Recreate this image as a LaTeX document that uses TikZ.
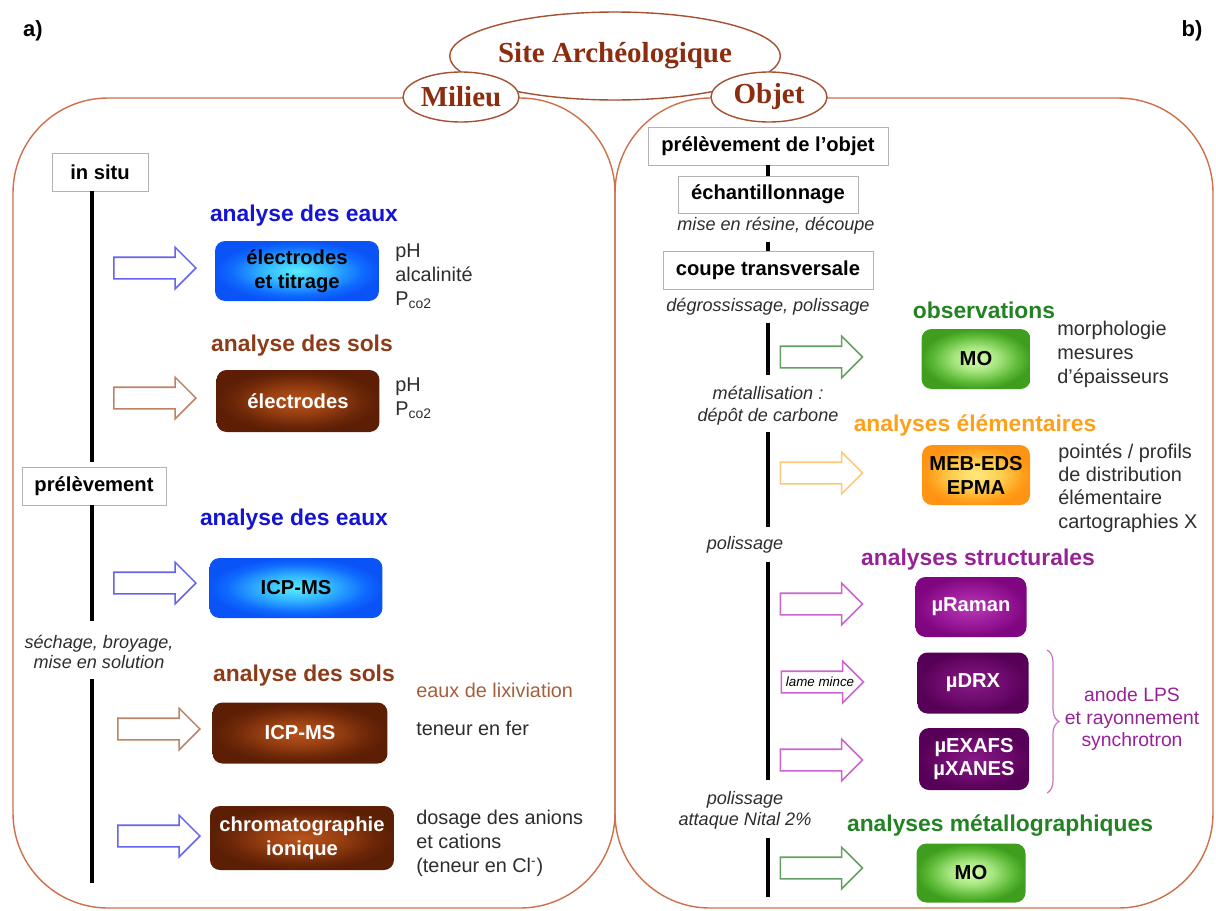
\documentclass[tikz,border=0pt]{standalone}
\usepackage{fontspec}
\setmainfont{Liberation Sans}
\newfontfamily\ttlfont{Liberation Serif}
\usetikzlibrary{shapes.geometric,shapes.arrows,decorations.pathreplacing}
\newcommand\myfs[2]{\fontsize{#1}{#2}\selectfont}
\definecolor{panelc}{RGB}{205,112,75}
\definecolor{ellc}{RGB}{165,80,50}
\definecolor{titlec}{RGB}{140,45,15}
\definecolor{hblue}{RGB}{20,20,210}
\definecolor{hbrown}{RGB}{140,60,25}
\definecolor{hgreen}{RGB}{35,130,35}
\definecolor{horange}{RGB}{255,160,25}
\definecolor{hpurple}{RGB}{150,35,150}
\definecolor{txtc}{RGB}{45,45,45}
\definecolor{lixc}{RGB}{165,95,60}
\definecolor{arblue}{RGB}{100,100,240}
\definecolor{arbrown}{RGB}{190,130,100}
\definecolor{argreen}{RGB}{100,160,100}
\definecolor{arorange}{RGB}{255,200,120}
\definecolor{arpurple}{RGB}{205,100,205}
\definecolor{bracec}{RGB}{200,120,200}
\pgfdeclareradialshading{gblue}{\pgfpoint{0bp}{0bp}}{rgb(0bp)=(0.35,0.93,1);rgb(10bp)=(0.2,0.72,1);rgb(20bp)=(0.06,0.42,1);rgb(25bp)=(0.04,0.33,0.97);rgb(50bp)=(0.04,0.33,0.97)}
\pgfdeclareradialshading{gbrown}{\pgfpoint{0bp}{0bp}}{rgb(0bp)=(0.72,0.33,0.1);rgb(10bp)=(0.6,0.25,0.07);rgb(20bp)=(0.42,0.15,0.03);rgb(25bp)=(0.36,0.12,0.02);rgb(50bp)=(0.36,0.12,0.02)}
\pgfdeclareradialshading{ggreen}{\pgfpoint{0bp}{0bp}}{rgb(0bp)=(0.85,1,0.7);rgb(10bp)=(0.65,0.9,0.5);rgb(20bp)=(0.35,0.72,0.2);rgb(25bp)=(0.25,0.62,0.12);rgb(50bp)=(0.25,0.62,0.12)}
\pgfdeclareradialshading{gorange}{\pgfpoint{0bp}{0bp}}{rgb(0bp)=(1,0.92,0.5);rgb(12bp)=(1,0.8,0.3);rgb(22bp)=(1,0.62,0.1);rgb(25bp)=(1,0.58,0.08);rgb(50bp)=(1,0.58,0.08)}
\pgfdeclareradialshading{gpurple}{\pgfpoint{0bp}{0bp}}{rgb(0bp)=(0.72,0.22,0.72);rgb(15bp)=(0.6,0.1,0.6);rgb(25bp)=(0.5,0.02,0.5);rgb(50bp)=(0.5,0.02,0.5)}
\pgfdeclareradialshading{gdpurple}{\pgfpoint{0bp}{0bp}}{rgb(0bp)=(0.52,0.1,0.52);rgb(15bp)=(0.43,0.04,0.43);rgb(25bp)=(0.34,0,0.34);rgb(50bp)=(0.34,0,0.34)}
\begin{document}
\begin{tikzpicture}[x=0.02cm,y=-0.02cm,
 panel/.style={draw=panelc, line width=0.8pt, rounded corners=1.9cm},
 oval/.style={ellipse, draw=ellc, line width=0.8pt, fill=white, inner sep=0pt, text=titlec, font=\ttlfont\bfseries\myfs{16.5}{18}},
 pbox/.style={draw=gray!60, fill=white, inner sep=0pt, font=\bfseries\myfs{11.5}{13}, minimum height=0.76cm},
 note/.style={font=\itshape\myfs{10.3}{11.8}, text=txtc, align=center, inner sep=0pt},
 head/.style={font=\bfseries\myfs{13}{15}, inner sep=0pt},
 side/.style={font=\myfs{11.3}{13.6}, text=txtc, align=left, anchor=west, inner sep=0pt},
 gbox/.style={rounded corners=0.2cm, inner sep=0pt, font=\bfseries\myfs{11.5}{13.6}, align=center, minimum height=1.2cm},
 blk/.style={single arrow, draw=#1, line width=0.9pt, fill=white, minimum height=1.64cm, minimum width=0pt, single arrow head extend=0.2cm, single arrow tip angle=90, inner xsep=0pt, inner ysep=0.2cm},
 vline/.style={line width=1.9pt, black}]
\useasboundingbox (0,0) rectangle (1216,910);
% panels
\draw[panel] (13,98) rectangle (615,908);
\draw[panel] (615,98) rectangle (1213,908);
% title ovals
\node[oval, minimum width=6.52cm, minimum height=1.76cm] (site) at (615,56) {Site Archéologique};
\node[oval, minimum width=2.32cm, minimum height=1.0cm] (milieu) at (461,97) {Milieu};
\node[oval, minimum width=2.32cm, minimum height=1.0cm] (objet) at (769,97) {Objet};
\node[font=\bfseries\myfs{12.5}{14}] (la) at (33,31) {a)};
\node[font=\bfseries\myfs{12.5}{14}] (lb) at (1192,31) {b)};
% ---------- left panel ----------
\node[pbox, minimum width=1.92cm] (insitu) at (100,172) {in situ};
\node[pbox, minimum width=2.88cm] (prelev) at (94,486) {prélèvement};
\coordinate (l1a) at (92,191); \coordinate (l1b) at (92,462);
\coordinate (l2a) at (92,505); \coordinate (l2b) at (92,621);
\coordinate (l3a) at (92,679); \coordinate (l3b) at (92,883);
\draw[vline] (l1a) -- (l1b);
\draw[vline] (l2a) -- (l2b);
\draw[vline] (l3a) -- (l3b);
\node[note, font=\itshape\myfs{10.3}{11.4}] (sech) at (99,652) {séchage, broyage,\\mise en solution};

\node[head, text=hblue] (h1) at (304,216) {analyse des eaux};
\node[head, text=hbrown] (h2) at (302,346) {analyse des sols};
\node[head, text=hblue] (h3) at (294,520) {analyse des eaux};
\node[head, text=hbrown] (h4) at (304,676) {analyse des sols};

\node[blk=arblue] (a1) at (149.5,268) {};
\node[blk=arbrown] (a2) at (149.5,398) {};
\node[blk=arblue] (a3) at (149.5,583) {};
\node[blk=arbrown] (a4) at (153.5,729) {};
\node[blk=arblue] (a5) at (153.5,836) {};

\node[gbox, shading=gblue, minimum width=3.28cm] (b1) at (297,271) {électrodes\\et titrage};
\node[gbox, shading=gbrown, text=white, minimum width=3.26cm, minimum height=1.24cm] (b2) at (298,401) {électrodes};
\node[gbox, shading=gblue, minimum width=3.46cm] (b3) at (296,588) {ICP-MS};
\node[gbox, shading=gbrown, text=white, minimum width=3.5cm, minimum height=1.22cm] (b4) at (300,733) {ICP-MS};
\node[gbox, shading=gbrown, text=white, minimum width=3.68cm, minimum height=1.28cm] (b5) at (302,838) {chromatographie\\ionique};

\node[side] (s1) at (395,276) {pH\\alcalinité\\P\textsubscript{co2}};
\node[side] (s2) at (395,398) {pH\\P\textsubscript{co2}};
\node[side, text=lixc] (s3) at (416,690) {eaux de lixiviation};
\node[side] (s4) at (416,728) {teneur en fer};
\node[side] (s5) at (416,843) {dosage des anions\\et cations\\(teneur en Cl\textsuperscript{-})};
% ---------- right panel ----------
\node[pbox, minimum width=4.8cm] (pobj) at (768,146) {prélèvement de l’objet};
\node[pbox, minimum width=3.6cm, minimum height=0.74cm] (echant) at (768,194.5) {échantillonnage};
\node[pbox, minimum width=4.2cm] (coupe) at (768,270) {coupe transversale};
\draw[vline] (pobj) -- (echant);
\node[note] (mise) at (776,226) {mise en résine, découpe};
\coordinate (m1) at (768,242);
\draw[vline] (m1) -- (coupe);
\node[note] (degr) at (768,307) {dégrossissage, polissage};
\node[note, font=\itshape\myfs{10.3}{12.5}] (metal) at (768,406) {métallisation :\\dépôt de carbone};
\node[note] (pol1) at (745,545) {polissage};
\node[note] (pol2) at (745,810) {polissage\\attaque Nital 2\%};
\coordinate (r1a) at (768,323); \coordinate (r1b) at (768,375);
\coordinate (r2a) at (768,432); \coordinate (r2b) at (768,527);
\coordinate (r3a) at (768,562); \coordinate (r3b) at (768,780);
\coordinate (r4a) at (768,838); \coordinate (r4b) at (768,897);
\draw[vline] (r1a) -- (r1b);
\draw[vline] (r2a) -- (r2b);
\draw[vline] (r3a) -- (r3b);
\draw[vline] (r4a) -- (r4b);

\node[head, text=hgreen] (h5) at (984,310) {observations};
\node[head, text=horange] (h6) at (975,425) {analyses élémentaires};
\node[head, text=hpurple] (h7) at (978,560) {analyses structurales};
\node[head, text=hgreen] (h8) at (1000,826) {analyses métallographiques};

\node[blk=argreen] (c1) at (816,357) {};
\node[blk=arorange] (c2) at (816,473) {};
\node[blk=arpurple] (c3) at (816,604) {};
\node[blk=arpurple] (c4) at (817,682) {};
\node[font=\itshape\myfs{7.6}{9}, inner sep=0pt] (lame) at (820,682) {lame mince};
\node[blk=arpurple] (c5) at (816,760) {};
\node[blk=argreen] (c6) at (816,868) {};

\node[gbox, shading=ggreen, minimum width=2.18cm] (g1) at (976,359) {MO};
\node[gbox, shading=gorange, minimum width=2.16cm] (g2) at (976,475) {MEB-EDS\\EPMA};
\node[gbox, shading=gpurple, text=white, minimum width=2.22cm] (g3) at (971,607) {µRaman};
\node[gbox, shading=gdpurple, text=white, minimum width=2.22cm, minimum height=1.22cm] (g4) at (973,683) {µDRX};
\node[gbox, shading=gdpurple, text=white, minimum width=2.2cm, minimum height=1.24cm] (g5) at (974,759) {µEXAFS\\µXANES};
\node[gbox, shading=ggreen, minimum width=2.18cm, minimum height=1.18cm] (g6) at (971,873) {MO};

\node[side] (t1) at (1057,354) {morphologie\\mesures\\d’épaisseurs};
\node[side, font=\myfs{11.3}{13.2}] (t2) at (1058,488) {pointés / profils\\de distribution\\élémentaire\\cartographies X};
\coordinate (br1) at (1047,650); \coordinate (br2) at (1047,793);
\draw[bracec, line width=0.7pt, decorate, decoration={brace, amplitude=0.24cm}] (br1) -- (br2);
\node[font=\myfs{11}{13}, text=hpurple, align=center, inner sep=0pt] (t3) at (1132,719) {anode LPS\\et rayonnement\\synchrotron};
\end{tikzpicture}
\end{document}
